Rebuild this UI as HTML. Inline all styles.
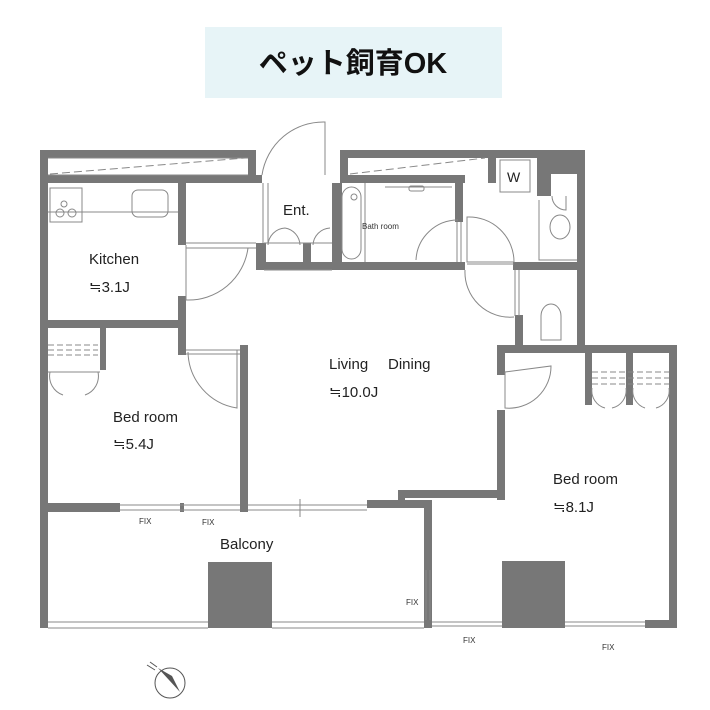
<!DOCTYPE html>
<html><head><meta charset="utf-8"><style>
body{margin:0;background:#fff;width:710px;height:710px;overflow:hidden}
svg{display:block}
</style></head><body>
<svg width="710" height="710" viewBox="0 0 710 710" xmlns="http://www.w3.org/2000/svg" font-family="Liberation Sans, sans-serif">
<rect x="205" y="27" width="297" height="71" fill="#e7f4f7"/>
<text x="353" y="73" text-anchor="middle" font-size="29" font-weight="bold" font-family="Liberation Sans, Noto Sans CJK JP, sans-serif" fill="#111">ペット飼育OK</text>
<g fill="#777">
<!-- top left band -->
<rect x="40" y="150" width="216" height="8"/>
<rect x="40" y="175" width="222" height="8"/>
<rect x="248" y="150" width="8" height="33"/>
<rect x="40" y="150" width="8" height="478"/>
<!-- kitchen partition -->
<rect x="178" y="183" width="8" height="62"/>
<rect x="178" y="296" width="8" height="59"/>
<rect x="40" y="320" width="146" height="8"/>
<!-- ent -->
<rect x="332" y="183" width="10" height="87"/>
<rect x="256" y="262" width="86" height="8"/>
<rect x="256" y="243" width="10" height="27"/>
<rect x="303" y="243" width="8" height="27"/>
<!-- top right band -->
<rect x="340" y="150" width="245" height="8"/>
<rect x="340" y="150" width="8" height="33"/>
<rect x="340" y="175" width="125" height="8"/>
<rect x="488" y="150" width="8" height="33"/>
<rect x="537" y="150" width="48" height="24"/>
<rect x="537" y="150" width="14" height="46"/>
<rect x="577" y="150" width="8" height="202"/>
<rect x="455" y="175" width="8" height="47"/>
<rect x="340" y="262" width="125" height="8"/>
<rect x="513" y="262" width="72" height="8"/>
<rect x="515" y="315" width="8" height="37"/>
<!-- right bedroom -->
<rect x="497" y="345" width="180" height="8"/>
<rect x="669" y="345" width="8" height="283"/>
<rect x="497" y="345" width="8" height="30"/>
<rect x="497" y="410" width="8" height="90"/>
<rect x="585" y="345" width="7" height="60"/>
<rect x="626" y="345" width="7" height="60"/>
<rect x="398" y="490" width="107" height="8"/>
<rect x="398" y="490" width="7" height="18"/>
<rect x="367" y="500" width="65" height="8"/>
<rect x="424" y="500" width="8" height="128"/>
<rect x="645" y="620" width="32" height="8"/>
<!-- left bedroom -->
<rect x="240" y="345" width="8" height="167"/>
<rect x="100" y="328" width="6" height="42"/>
<rect x="40" y="503" width="80" height="9"/>
<rect x="180" y="503" width="4" height="9"/>
<!-- pillars -->
<rect x="208" y="562" width="64" height="66"/>
<rect x="502" y="561" width="63" height="67"/>
</g>
<g fill="none" stroke="#888" stroke-width="1">
<path d="M48 158H248M48 175H248" />
<path d="M50 174L245 158" stroke-dasharray="8 4"/>
<path d="M350 174L485 158" stroke-dasharray="8 4"/>
<!-- windows -->
<path d="M120 505H240M120 510H240M248 505H367M248 510H367M300 499V517"/>
<path d="M426 570V620M430 570V620"/>
<path d="M432 622H502M432 626H502M565 622H645M565 626H645"/>
<path d="M48 622H208M48 628H208M272 622H424M272 628H424"/>
<!-- entrance door -->
<path d="M262 175A62 62 0 0 1 325 122L325 175"/>
<!-- kitchen door -->
<path d="M186 245V300A60 60 0 0 0 248 248"/>
<path d="M186 243H256M186 248H256"/>
<path d="M48 212H178"/>
<path d="M263 183V243M268 183V243"/>
<!-- bedroom door -->
<path d="M186 350H240M186 354H240M188 352A58 58 0 0 0 237 408V350"/>
<!-- closets -->
<path d="M48 345H98M48 350H98M48 355H98" stroke-dasharray="6 3"/>
<path d="M48 372H100M50 372A20 20 0 0 0 63 395M98 372A20 20 0 0 1 85 395"/>
<path d="M264 270H332M264 243H332"/>
<path d="M268 245A18 18 0 0 1 285 228M300 245A18 18 0 0 0 285 228M313 245A18 18 0 0 1 330 228"/>
<!-- bathroom -->
<rect x="342" y="187" width="19" height="72" rx="10"/>
<path d="M365 183V262M385 187H452"/>
<rect x="409" y="186" width="15" height="5" rx="2"/>
<circle cx="354" cy="197" r="3"/>
<path d="M416 260A42 42 0 0 1 458 220M457 222V262M461 222V262"/>
<path d="M467 217A45 45 0 0 1 514 262H467Z"/>
<path d="M467 264H514M465 270A45 45 0 0 0 514 317M515 270V316M519 270V316"/>
<path d="M539 200V260H577"/>
<ellipse cx="560" cy="227" rx="10" ry="12"/>
<path d="M552 196A14 14 0 0 0 566 210V196"/>
<path d="M541 340V316A10 12 0 0 1 561 316V340Z"/>
<!-- right bedroom door -->
<path d="M505 372V408A42 42 0 0 0 551 366Z"/>
<!-- right closets -->
<path d="M592 372H669M592 378H669M592 384H669" stroke-dasharray="6 3"/>
<path d="M592 388A18 18 0 0 0 605 408M626 388A18 18 0 0 1 612 408M633 388A18 18 0 0 0 645 408M669 388A18 18 0 0 1 656 408"/>
<rect x="500" y="160" width="30" height="32"/>
<path d="M50 188H82V222H50Z"/>
<rect x="132" y="190" width="36" height="27" rx="6"/>
<circle cx="64" cy="204" r="3"/><circle cx="60" cy="213" r="4"/><circle cx="72" cy="213" r="4"/>
<circle cx="170" cy="683" r="15" stroke="#555"/>
</g>
<path d="M158 668L180 692L172 676Z" fill="#555"/>
<path d="M147 665L155 670M150 662L157 667" stroke="#555"/>
<g fill="#222" font-size="15">
<text x="89" y="264">Kitchen</text>
<text x="89" y="292">≒3.1J</text>
<text x="283" y="215">Ent.</text>
<text x="329" y="369">Living</text>
<text x="388" y="369">Dining</text>
<text x="329" y="397">≒10.0J</text>
<text x="113" y="422">Bed room</text>
<text x="113" y="449">≒5.4J</text>
<text x="553" y="484">Bed room</text>
<text x="553" y="512">≒8.1J</text>
<text x="220" y="549">Balcony</text>
<text x="507" y="182" font-size="14">W</text>
</g>
<g fill="#333" font-size="8">
<text x="362" y="229">Bath room</text>
<text x="139" y="524">FIX</text>
<text x="202" y="525">FIX</text>
<text x="406" y="605">FIX</text>
<text x="463" y="643">FIX</text>
<text x="602" y="650">FIX</text>
</g>
</svg>
</body></html>
